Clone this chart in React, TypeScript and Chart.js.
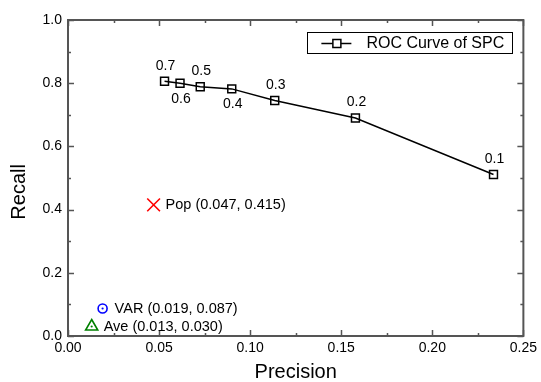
import React, { useEffect, useRef } from 'react';
import { Chart, registerables } from 'chart.js';

Chart.register(...registerables);

// ---- data ----
const thresholdLabels = ['0.7', '0.6', '0.5', '0.4', '0.3', '0.2', '0.1'];
const rocPrecision = [0.053, 0.0615, 0.0726, 0.0899, 0.1135, 0.1578, 0.2336];
const rocRecall = [0.806, 0.8, 0.789, 0.782, 0.745, 0.69, 0.511];
const baselineNames = ['Pop', 'VAR', 'Ave'];
const baselinePrecision = [0.047, 0.019, 0.013];
const baselineRecall = [0.415, 0.087, 0.03];
const xTickValues = [0, 0.05, 0.1, 0.15, 0.2, 0.25];
const yTickValues = [0, 0.2, 0.4, 0.6, 0.8, 1.0];

// ---- styles ----
const FONT = "'Liberation Sans', Arial, Helvetica, sans-serif";
const AXIS_COLOR = '#555555';
const labelSide = [-1, 1, -1, 1, -1, -1, -1]; // -1 above, +1 below
const baselineColors = ['#ff0000', '#0000ff', '#008000'];
const baselineStyles = ['crossRot', 'circle', 'triangle'];
const baselineRadius = [9, 4.5, 7];

export default function App() {
  const ref = useRef<HTMLCanvasElement | null>(null);

  useEffect(() => {
    if (!ref.current) return;

    const framePlugin = {
      id: 'frameTicks',
      afterDatasetsDraw(chart: any) {
        const { ctx, chartArea, scales } = chart;
        const { left, right, top, bottom } = chartArea;
        const xs = scales.x;
        const ys = scales.y;
        ctx.save();
        ctx.strokeStyle = AXIS_COLOR;
        ctx.lineWidth = 1.5;
        for (let i = 0; i < xTickValues.length; i++) {
          const vals: [number, number][] = [[xTickValues[i], 6]];
          if (i < xTickValues.length - 1) vals.push([(xTickValues[i] + xTickValues[i + 1]) / 2, 3]);
          for (const [v, len] of vals) {
            const px = Math.round(xs.getPixelForValue(v)) + 0.5;
            ctx.beginPath();
            ctx.moveTo(px, bottom);
            ctx.lineTo(px, bottom - len);
            ctx.moveTo(px, top);
            ctx.lineTo(px, top + len);
            ctx.stroke();
          }
        }
        for (let i = 0; i < yTickValues.length; i++) {
          const vals: [number, number][] = [[yTickValues[i], 6]];
          if (i < yTickValues.length - 1) vals.push([(yTickValues[i] + yTickValues[i + 1]) / 2, 3]);
          for (const [v, len] of vals) {
            const py = Math.round(ys.getPixelForValue(v)) + 0.5;
            ctx.beginPath();
            ctx.moveTo(left, py);
            ctx.lineTo(left + len, py);
            ctx.moveTo(right, py);
            ctx.lineTo(right - len, py);
            ctx.stroke();
          }
        }
        ctx.lineWidth = 2;
        ctx.strokeRect(left, top, right - left, bottom - top);

        ctx.fillStyle = '#000';
        ctx.font = `14px ${FONT}`;
        ctx.textAlign = 'center';
        ctx.textBaseline = 'middle';
        const roc = chart.getDatasetMeta(0);
        roc.data.forEach((pt: any, i: number) => {
          ctx.fillText(thresholdLabels[i], pt.x + 1, pt.y + labelSide[i] * 15.5);
        });

        ctx.textAlign = 'left';
        ctx.font = `14.5px ${FONT}`;
        for (let k = 0; k < baselineNames.length; k++) {
          const meta = chart.getDatasetMeta(k + 1);
          const pt: any = meta.data[0];
          const txt = `${baselineNames[k]} (${baselinePrecision[k].toFixed(3)}, ${baselineRecall[k].toFixed(3)})`;
          ctx.fillStyle = '#000';
          ctx.fillText(txt, pt.x + 12, pt.y + 0.5);
          if (k > 0) {
            ctx.fillStyle = baselineColors[k];
            ctx.beginPath();
            ctx.arc(pt.x, pt.y, 1.1, 0, Math.PI * 2);
            ctx.fill();
          }
        }

        const bw = 205;
        const bh = 21;
        const bx = right - 11 - bw;
        const by = top + 12;
        ctx.strokeStyle = '#000';
        ctx.lineWidth = 1;
        ctx.strokeRect(Math.round(bx) + 0.5, Math.round(by) + 0.5, bw, bh);
        const cy = Math.round(by + bh / 2) + 0.5;
        ctx.lineWidth = 1.5;
        ctx.beginPath();
        ctx.moveTo(bx + 14, cy);
        ctx.lineTo(bx + 44, cy);
        ctx.stroke();
        ctx.fillStyle = '#fff';
        ctx.fillRect(bx + 29.5 - 4, cy - 4, 8, 8);
        ctx.strokeRect(bx + 29.5 - 4, cy - 4, 8, 8);
        ctx.fillStyle = '#000';
        ctx.font = `16px ${FONT}`;
        ctx.textAlign = 'left';
        ctx.textBaseline = 'middle';
        ctx.fillText(chart.data.datasets[0].label, bx + 59, by + bh / 2 + 1);
        ctx.restore();
      },
    };

    const chart = new Chart(ref.current, {
      type: 'scatter',
      data: {
        datasets: [
          {
            label: 'ROC Curve of SPC',
            data: rocPrecision.map((p, i) => ({ x: p, y: rocRecall[i] })),
            showLine: true,
            borderColor: '#000',
            borderWidth: 1.5,
            pointStyle: 'rect',
            pointRadius: 5.6,
            pointBorderWidth: 1.5,
            pointBorderColor: '#000',
            pointBackgroundColor: 'rgba(0,0,0,0)',
          },
          ...baselineNames.map((name, k) => ({
            label: name,
            data: [{ x: baselinePrecision[k], y: baselineRecall[k] }],
            showLine: false,
            pointStyle: baselineStyles[k],
            pointRadius: baselineRadius[k],
            pointBorderWidth: 1.6,
            borderColor: baselineColors[k],
            pointBorderColor: baselineColors[k],
            pointBackgroundColor: 'rgba(0,0,0,0)',
          })),
        ],
      },
      plugins: [framePlugin],
      options: {
        animation: false,
        responsive: false,
        maintainAspectRatio: false,
        events: [],
        layout: { padding: { left: 7, right: 17, top: 20, bottom: 0 } },
        plugins: {
          legend: { display: false },
          tooltip: { enabled: false },
        },
        scales: {
          x: {
            type: 'linear',
            min: 0,
            max: 0.25,
            afterBuildTicks: (s: any) => {
              s.ticks = xTickValues.map((v) => ({ value: v }));
            },
            afterFit: (s: any) => {
              s.height = 46;
            },
            grid: { display: false, drawTicks: false },
            border: { display: false },
            ticks: {
              padding: 4,
              color: '#000',
              font: { family: FONT, size: 14 },
              callback: (v: any) => Number(v).toFixed(2),
              maxRotation: 0,
              autoSkip: false,
            },
            title: {
              display: true,
              text: 'Precision',
              color: '#000',
              font: { family: FONT, size: 20, lineHeight: 1 },
              padding: { top: 0, bottom: 0 },
            },
          },
          y: {
            type: 'linear',
            min: 0,
            max: 1,
            afterBuildTicks: (s: any) => {
              s.ticks = yTickValues.map((v) => ({ value: v }));
            },
            afterFit: (s: any) => {
              s.width = 61;
            },
            grid: { display: false, drawTicks: false },
            border: { display: false },
            ticks: {
              padding: 6,
              color: '#000',
              font: { family: FONT, size: 14 },
              callback: (v: any) => Number(v).toFixed(1),
              autoSkip: false,
            },
            title: {
              display: true,
              text: 'Recall     ',
              color: '#000',
              font: { family: FONT, size: 20, lineHeight: 1.2 },
              padding: { top: 0, bottom: 0 },
            },
          },
        },
      } as any,
    });

    return () => chart.destroy();
  }, []);

  return (
    <div style={{ position: 'fixed', left: 0, top: 0, width: 541, height: 382, background: '#fff' }}>
      <canvas ref={ref} width={541} height={382} style={{ width: 541, height: 382, display: 'block' }} />
    </div>
  );
}
